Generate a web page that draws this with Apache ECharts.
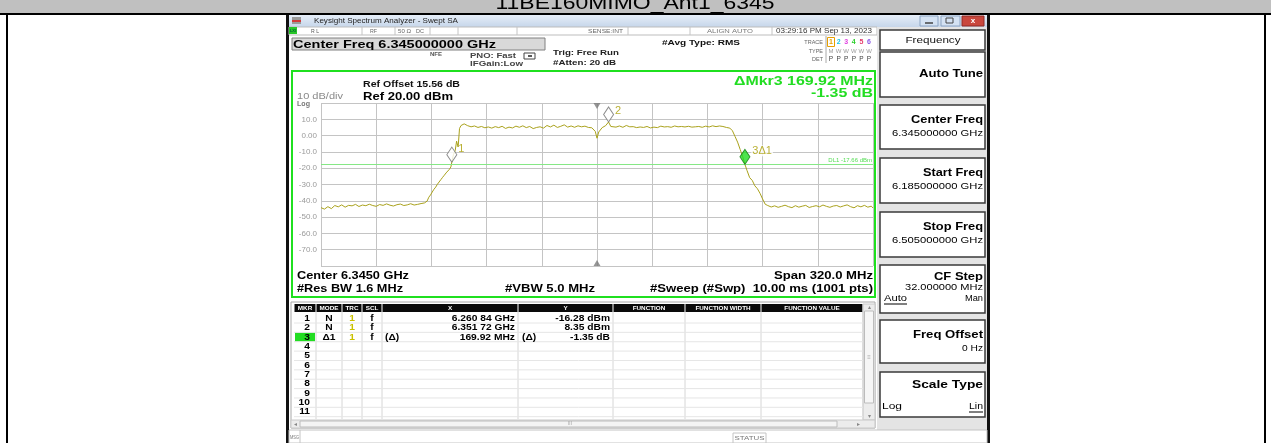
<!DOCTYPE html>
<html><head><meta charset="utf-8">
<script src="https://cdn.jsdelivr.net/npm/echarts/dist/echarts.min.js"></script>
<style>html,body{margin:0;padding:0;background:#fff;overflow:hidden}#chart{width:1271px;height:443px}</style>
</head><body><div id="chart"></div>
<script>
// ================= DATA =================
const chartTitle = '11BE160MIMO_Ant1_6345';
const startFreqGHz = 6.185, stopFreqGHz = 6.505, centerFreqGHz = 6.345;
const refLevelDbm = 20, bottomLevelDbm = -80, dbPerDiv = 10;
const yTickLabelValues = [10, 0, -10, -20, -30, -40, -50, -60, -70];

const lowFloorFreq = [6.185,6.187,6.189,6.191,6.193,6.195,6.197,6.199,6.201,6.203,6.205,6.207,6.209,6.211,6.213,6.215,6.217,6.219,6.221,6.223,6.225,6.227,6.229,6.231,6.233,6.235,6.237,6.239,6.241,6.243,6.245];
const lowFloorDbm  = [-44.2,-45.1,-43.6,-44.8,-42.9,-43.7,-42.5,-43.9,-42.8,-43.1,-42.2,-43.5,-42.6,-43.0,-42.1,-42.9,-43.4,-42.3,-42.8,-41.9,-42.7,-43.2,-42.4,-42.0,-42.9,-42.5,-41.8,-42.6,-42.2,-41.7,-41.3];

const riseFreq = [6.2465,6.2475,6.2485,6.2495,6.2505,6.2515,6.2525,6.2535,6.2545,6.2555,6.2565,6.2575,6.2585,6.2595,6.2603,6.26084,6.2618,6.2628,6.2636,6.2645,6.2653,6.2662,6.2670];
const riseDbm  = [-40.2,-37.8,-36.4,-34.6,-32.9,-31.6,-29.8,-28.7,-27.0,-25.6,-24.3,-22.9,-21.8,-20.6,-19.2,-16.28,-11.6,-9.2,-3.4,-7.0,4.4,6.2,7.4];

const passFreq = [6.268,6.270,6.272,6.274,6.276,6.278,6.280,6.282,6.284,6.286,
  6.288,6.290,6.292,6.294,6.296,6.298,6.300,6.302,6.304,6.306,
  6.308,6.310,6.312,6.314,6.316,6.318,6.320,6.322,6.324,6.326,
  6.328,6.330,6.332,6.334,6.336,6.338,6.340,6.342,
  6.344,6.345,6.346,6.348,6.350,6.3517,6.353,6.354,
  6.356,6.358,6.360,6.362,6.364,6.366,6.368,6.370,6.372,6.374,
  6.376,6.378,6.380,6.382,6.384,6.386,6.388,6.390,6.392,6.394,
  6.396,6.398,6.400,6.402,6.404,6.406,6.408,6.410,6.412,6.414,
  6.416,6.418,6.420,6.422];
const passDbm = [7.2,6.1,5.4,5.9,5.0,5.6,4.8,5.3,4.6,5.5,
  4.9,5.7,4.4,5.2,4.7,5.8,5.1,6.0,4.9,5.6,
  4.3,5.0,5.4,4.6,6.2,5.3,6.4,5.0,5.7,6.6,
  5.2,5.9,5.1,6.0,5.4,5.8,5.0,4.8,
  2.6,-1.6,2.2,4.9,6.1,8.35,5.6,6.3,
  5.2,5.9,5.1,6.2,5.4,5.5,4.9,5.3,5.0,5.6,
  4.7,5.2,4.9,5.8,5.3,5.5,5.1,5.9,5.4,5.6,
  5.3,5.7,5.2,5.4,5.6,5.1,5.8,5.3,6.0,5.5,
  5.9,5.6,5.0,4.6];

const fallFreq = [6.4235,6.4250,6.4265,6.4280,6.4295,6.43076,6.4320,6.4335,6.4350,6.4365,6.4380,6.4395,6.4410,6.4425];
const fallDbm  = [3.0,-0.5,-4.0,-8.5,-13.0,-17.63,-21.5,-25.8,-27.5,-30.8,-32.6,-35.4,-38.9,-42.1];

const highFloorFreq = [6.444,6.446,6.448,6.450,6.452,6.454,6.456,6.458,6.460,6.462,6.464,6.466,6.468,6.470,6.472,6.474,6.476,6.478,6.480,6.482,6.484,6.486,6.488,6.490,6.492,6.494,6.496,6.498,6.500,6.502,6.504,6.505];
const highFloorDbm  = [-42.9,-43.8,-43.1,-44.0,-43.4,-42.7,-43.6,-44.2,-43.0,-43.9,-43.3,-42.8,-44.1,-43.5,-43.0,-43.7,-42.6,-43.4,-44.0,-43.2,-42.9,-43.8,-43.1,-42.5,-43.6,-44.3,-43.0,-43.7,-42.8,-43.9,-43.3,-44.4];

const markerFreq = [6.26084, 6.35172, 6.43076];
const markerDbm  = [-16.28, 8.35, -17.63];
const markerName = ['1', '2', '3\u03941'];
const displayLineDbm = -17.66;

const tableHeaders = ['MKR','MODE','TRC','SCL','X','Y','FUNCTION','FUNCTION WIDTH','FUNCTION VALUE'];
const mkrNumbers = ['1','2','3','4','5','6','7','8','9','10','11'];
const mkrMode = ['N','N','\u03941'];
const mkrTrace = ['1','1','1'];
const mkrScale = ['f','f','f'];
const mkrXRef = ['','','(\u0394)'];
const mkrX = ['6.260 84 GHz','6.351 72 GHz','169.92 MHz'];
const mkrYRef = ['','','(\u0394)'];
const mkrY = ['-16.28 dBm','8.35 dBm','-1.35 dB'];

const softkeyTitles = ['Frequency','Auto Tune','Center Freq','Start Freq','Stop Freq','CF Step','Freq Offset','Scale Type'];
const softkeyValues = ['','','6.345000000 GHz','6.185000000 GHz','6.505000000 GHz','32.000000 MHz','0 Hz',''];

// ================= LAYOUT / DRAW =================
const FONT = '"Liberation Sans", Arial, Helvetica, sans-serif';
const ctx2d = document.createElement('canvas').getContext('2d');
function T(x, y, text, size, o) {
  o = o || {};
  const font = (o.bold ? 'bold ' : '') + size + 'px ' + FONT;
  let sx = o.sx || 1;
  if (o.w) { ctx2d.font = font; const m = ctx2d.measureText(text).width; if (m > 0) sx = o.w / m; }
  const al = o.align || 'left', va = o.va || 'middle';
  return { type: 'text', x: x, y: y, scaleX: sx, scaleY: 1, z: 50, silent: true,
    style: { text: text, font: font, fill: o.color || '#000', align: al, verticalAlign: va, textAlign: al, textVerticalAlign: va } };
}
function R(x, y, w, h, fill, stroke, lw) {
  return { type: 'rect', z: 1, silent: true, shape: { x: x, y: y, width: w, height: h },
    style: { fill: fill || 'transparent', stroke: stroke || null, lineWidth: lw || 1 } };
}
function L(x1, y1, x2, y2, c, lw) {
  return { type: 'line', z: 2, silent: true, shape: { x1: x1, y1: y1, x2: x2, y2: y2 }, style: { stroke: c, lineWidth: lw || 1 } };
}

const g = [];
// outer table frame
g.push(R(0, 0, 1271, 13, '#c0c0c0'));
g.push(R(0, 13, 1271, 2, '#000'));
g.push(R(6, 13, 2, 430, '#000'));
g.push(R(1264, 13, 2, 430, '#000'));
g.push(T(635, 13, chartTitle, 18, { align: 'center', va: 'bottom', w: 279 }));

// screenshot frame
g.push(R(286, 15, 3, 428, '#111'));
g.push(R(987, 15, 3, 428, '#111'));
// window title bar
g.push(R(289, 15, 698, 12, { type: 'linear', x: 0, y: 0, x2: 0, y2: 1, colorStops: [{ offset: 0, color: '#e6eef8' }, { offset: 1, color: '#c6d6ea' }] }));
g.push(R(292, 17, 9, 3, '#9a9a9a'));
g.push(R(292, 20, 9, 2, '#d33a3a'));
g.push(R(292, 22, 9, 2, '#9a9a9a'));
g.push(T(314, 21, 'Keysight Spectrum Analyzer - Swept SA', 7, { w: 144, color: '#222' }));
g.push(R(920, 16, 18, 10, '#d4e2f3', '#8ca4c2'));
g.push(L(925, 23, 933, 23, '#444', 1.5));
g.push(R(941, 16, 19, 10, '#d4e2f3', '#8ca4c2'));
g.push(R(946, 18, 7, 5, 'transparent', '#444'));
g.push(R(962, 16, 22, 10, '#c9473d', '#8e2a24'));
g.push(T(973, 21, 'x', 8, { align: 'center', bold: true, color: '#fff' }));

// status row
g.push(R(289, 27, 588, 8, '#fff', '#bdbdbd'));
g.push(R(289, 27, 8, 7, '#27c627'));
g.push(T(293, 31, 'LXI', 4, { align: 'center', bold: true, color: '#063' }));
[362, 395, 430, 458, 517, 628, 690, 772].forEach(function (x) { g.push(L(x, 27, x, 35, '#c4c4c4')); });
g.push(T(311, 31, 'R L', 6, { color: '#555', w: 8 }));
g.push(T(370, 31, 'RF', 6, { color: '#666', w: 7 }));
g.push(T(398, 31, '50 \u03a9', 6, { color: '#666', w: 13 }));
g.push(T(416, 31, 'DC', 6, { color: '#666', w: 8 }));
g.push(T(623, 31, 'SENSE:INT', 6, { color: '#666', align: 'right', w: 35 }));
g.push(T(730, 31, 'ALIGN AUTO', 6, { color: '#777', align: 'center', w: 46 }));
g.push(T(776, 31, '03:29:16 PM Sep 13, 2023', 7, { color: '#333', w: 96 }));

// header info area
g.push(R(292, 38, 253, 12, '#d9d9d9', '#808080'));
g.push(T(293, 44.5, 'Center Freq 6.345000000 GHz', 11, { bold: true, w: 203 }));
g.push(T(430, 54, 'NFE', 6, { bold: true, color: '#555', w: 12 }));
g.push(T(470, 56, 'PNO: Fast', 6.5, { bold: true, color: '#444', w: 46 }));
g.push(R(524, 53, 11, 6, '#fff', '#444'));
g.push(L(528, 56, 532, 56, '#222', 1.5));
g.push(T(470, 64, 'IFGain:Low', 6.5, { bold: true, color: '#444', w: 53 }));
g.push(T(553, 53, 'Trig: Free Run', 7.5, { bold: true, color: '#222', w: 66 }));
g.push(T(553, 63, '#Atten: 20 dB', 7.5, { bold: true, color: '#222', w: 63 }));
g.push(T(662, 43, '#Avg Type: RMS', 8, { bold: true, color: '#111', w: 78 }));
// trace table
g.push(L(826, 36, 826, 63, '#aaa'));
g.push(T(823, 42, 'TRACE', 5.5, { align: 'right', color: '#666' }));
g.push(T(823, 51, 'TYPE', 5.5, { align: 'right', color: '#666' }));
g.push(T(823, 59, 'DET', 5.5, { align: 'right', color: '#666' }));
const traceColors = ['#e8a000', '#19c8e6', '#e040e0', '#2ccf2c', '#e43a6a', '#8a5ae6'];
g.push(R(827.5, 37.5, 7, 9, 'transparent', '#e8a000'));
['1', '2', '3', '4', '5', '6'].forEach(function (d, i) {
  g.push(T(831 + i * 7.6, 42, d, 7, { align: 'center', bold: true, color: traceColors[i] }));
  g.push(T(831 + i * 7.6, 51, i === 0 ? 'M' : 'W', 6, { align: 'center', color: '#999' }));
  g.push(T(831 + i * 7.6, 59, 'P', 6.5, { align: 'center', color: '#444' }));
});

// right softkey panel
g.push(R(877, 27, 110, 403, '#e4e4e4'));
const skTop = [30, 52, 105, 158, 212, 265, 320, 372];
const skH = [20, 45, 44, 45, 45, 48, 43, 45];
const skTitleW = [55, 64, 72, 60, 60, 49, 70, 71];
const skValueW = [0, 0, 91, 91, 91, 78, 21, 0];
skTop.forEach(function (top, i) {
  g.push(R(880, top, 105, skH[i], '#fff', '#3a3a3a', 1.5));
  if (i === 0) {
    g.push(T(933, top + 10, softkeyTitles[i], 9.5, { align: 'center', w: skTitleW[i], color: '#111' }));
  } else if (i === 1) {
    g.push(T(983, top + skH[i] / 2, softkeyTitles[i], 10.5, { bold: true, align: 'right', w: skTitleW[i] }));
  } else {
    const ty = (i === 5) ? top + 12 : (i === 7 ? top + 13 : top + 15);
    g.push(T(983, ty, softkeyTitles[i], 10.5, { bold: true, align: 'right', w: skTitleW[i] }));
    if (softkeyValues[i]) {
      const vy = (i === 5) ? top + 23 : top + 29;
      g.push(T(983, vy, softkeyValues[i], 8.5, { align: 'right', w: skValueW[i] }));
    }
  }
});
g.push(T(884, 299, 'Auto', 8.5, { w: 23 }));
g.push(L(884, 304, 907, 304, '#000', 1));
g.push(T(983, 299, 'Man', 8.5, { align: 'right', w: 18 }));
g.push(T(882, 407, 'Log', 8.5, { w: 20 }));
g.push(T(983, 407, 'Lin', 8.5, { align: 'right', w: 14 }));
g.push(L(969, 412, 983, 412, '#000', 1));

// plot frame (green)
g.push(R(292, 71, 583, 226, 'transparent', '#1fe01f', 2));
g.push(T(363, 85, 'Ref Offset 15.56 dB', 8.5, { bold: true, color: '#111', w: 97 }));
g.push(T(363, 96.5, 'Ref 20.00 dBm', 11, { bold: true, w: 90 }));
g.push(T(297, 97, '10 dB/div', 9, { color: '#8a8a8a', w: 46 }));
g.push(T(297, 104, 'Log', 8, { bold: true, color: '#777', w: 13 }));
g.push(T(873, 81, '\u0394Mkr3 169.92 MHz', 13, { bold: true, align: 'right', color: '#22dd22', w: 139 }));
g.push(T(873, 93, '-1.35 dB', 13, { bold: true, align: 'right', color: '#22dd22', w: 62 }));
g.push(T(297, 276, 'Center 6.3450 GHz', 10.5, { bold: true, w: 112 }));
g.push(T(297, 289, '#Res BW 1.6 MHz', 10.5, { bold: true, w: 106 }));
g.push(T(505, 289, '#VBW 5.0 MHz', 10.5, { bold: true, w: 90 }));
g.push(T(873, 276, 'Span 320.0 MHz', 10.5, { bold: true, align: 'right', w: 99 }));
g.push(T(873, 289, '#Sweep (#Swp)  10.00 ms (1001 pts)', 10.5, { bold: true, align: 'right', w: 223 }));

// marker table
const colX = [294, 316, 342, 362, 382, 518, 613, 685, 761, 863];
g.push(R(291, 302, 584, 126, '#fff', '#a8a8a8'));
for (let c = 0; c < 9; c++) {
  g.push(R(colX[c] + 0.5, 304, colX[c + 1] - colX[c] - 1, 8, '#0a0a0a'));
  g.push(T((colX[c] + colX[c + 1]) / 2, 308.3, tableHeaders[c], 5.5, { bold: true, align: 'center', color: '#fff', sx: 1.15 }));
  if (c > 0) g.push(L(colX[c], 312, colX[c], 419, '#d6d6d6'));
}
g.push(L(863, 312, 863, 419, '#d6d6d6'));
const rowY0 = 318.3, rowDy = 9.37;
for (let r = 0; r < mkrNumbers.length; r++) {
  const y = rowY0 + r * rowDy;
  g.push(L(294, y + 4.7, 863, y + 4.7, '#e6e6e6'));
}
g.push(R(295, rowY0 + 2 * rowDy - 4.5, 20, 9, '#22dd22'));
const tsx = 1.14;
for (let r = 0; r < mkrNumbers.length; r++) {
  const y = rowY0 + r * rowDy;
  g.push(T(310, y, mkrNumbers[r], 9, { bold: true, align: 'right', sx: tsx }));
  if (r < mkrMode.length) {
    g.push(T(329, y, mkrMode[r], 9, { bold: true, align: 'center', sx: tsx }));
    g.push(T(352, y, mkrTrace[r], 9, { bold: true, align: 'center', color: '#c9c000', sx: tsx }));
    g.push(T(372, y, mkrScale[r], 9, { bold: true, align: 'center', sx: tsx }));
    if (mkrXRef[r]) g.push(T(385, y, mkrXRef[r], 9, { bold: true, sx: tsx }));
    g.push(T(515, y, mkrX[r], 9, { bold: true, align: 'right', sx: tsx }));
    if (mkrYRef[r]) g.push(T(522, y, mkrYRef[r], 9, { bold: true, sx: tsx }));
    g.push(T(610, y, mkrY[r], 9, { bold: true, align: 'right', sx: tsx }));
  }
}
// vertical scrollbar
g.push(R(863, 304, 12, 116, '#ececec', '#c8c8c8'));
g.push(R(864.5, 311, 9, 92, '#f6f6f6', '#bcbcbc'));
g.push(T(869, 307.5, '\u25b4', 6, { align: 'center', color: '#888' }));
g.push(T(869, 416, '\u25be', 6, { align: 'center', color: '#888' }));
g.push(T(869, 357, '\u2261', 6, { align: 'center', color: '#aaa' }));
// horizontal scrollbar
g.push(R(291, 420, 584, 8, '#ececec', '#c8c8c8'));
g.push(R(300, 421, 537, 6, '#f4f4f4', '#bcbcbc'));
g.push(T(295, 424, '\u25c2', 6, { align: 'center', color: '#888' }));
g.push(T(858, 424, '\u25b8', 6, { align: 'center', color: '#888' }));
g.push(T(570, 424, 'III', 4.5, { align: 'center', color: '#999' }));
// message / status row
g.push(R(289, 430, 698, 13, '#fff', '#c4c4c4'));
g.push(L(300, 430, 300, 443, '#c4c4c4'));
g.push(T(290, 438, 'MSG', 5, { color: '#777', w: 9 }));
g.push(R(733, 433, 33, 10, '#fff', '#c4c4c4'));
g.push(T(749.5, 439, 'STATUS', 5, { align: 'center', color: '#777', w: 30 }));

// ================= CHART =================
function pairs(fs, ds) { return fs.map(function (f, i) { return [f, ds[i]]; }); }
const traceData = [].concat(
  pairs(lowFloorFreq, lowFloorDbm), pairs(riseFreq, riseDbm), pairs(passFreq, passDbm),
  pairs(fallFreq, fallDbm), pairs(highFloorFreq, highFloorDbm));

const markerData = markerFreq.map(function (f, i) {
  const active = i === 2;
  return {
    value: [f, markerDbm[i]],
    itemStyle: { color: active ? '#22dd22' : '#ffffff', borderColor: active ? '#0f7a0f' : '#707070', borderWidth: 1 },
    label: { show: true, formatter: markerName[i], position: 'right', distance: 1, offset: [0, i === 1 ? -4 : -6],
      color: '#a89c00', fontSize: 11, fontFamily: FONT,
      backgroundColor: active ? '#fff' : 'transparent', padding: active ? [0, 1, 0, 1] : 0 }
  };
});

const chart = echarts.init(document.getElementById('chart'), null, { renderer: 'canvas' });
chart.setOption({
  animation: false,
  backgroundColor: '#ffffff',
  grid: { left: 321, top: 103, width: 552, height: 163, containLabel: false, outerBoundsMode: 'none' },
  xAxis: [
    { type: 'value', min: startFreqGHz, max: stopFreqGHz, show: false, gridIndex: 0 },
    { type: 'value', min: 0, max: 10, interval: 1, gridIndex: 0, position: 'bottom',
      axisLine: { show: false }, axisTick: { show: false }, axisLabel: { show: false },
      splitLine: { show: true, lineStyle: { color: '#c4c4c4', width: 1 } } }
  ],
  yAxis: {
    type: 'value', min: bottomLevelDbm, max: refLevelDbm, interval: dbPerDiv,
    axisLine: { show: false }, axisTick: { show: false },
    splitLine: { show: true, lineStyle: { color: '#c4c4c4', width: 1 } },
    axisLabel: { show: true, margin: 4, color: '#9a9a9a', fontSize: 8, fontFamily: FONT,
      showMinLabel: false, showMaxLabel: false,
      formatter: function (v) { if (yTickLabelValues.indexOf(v) < 0) return ''; return v === 0 ? '0.00' : v.toFixed(1); } }
  },
  series: [
    { type: 'line', xAxisIndex: 0, data: traceData, showSymbol: false, symbol: 'none', z: 3,
      lineStyle: { color: '#aaa21c', width: 1 }, silent: true,
      markLine: { silent: true, symbol: ['none', 'none'], animation: false,
        lineStyle: { color: '#86e886', width: 1, type: 'solid' },
        label: { show: true, position: 'insideEndTop', formatter: 'DL1 -17.66 dBm', color: '#55dd55', fontSize: 6, fontFamily: FONT, distance: 1 },
        data: [{ yAxis: displayLineDbm }] } },
    { type: 'scatter', xAxisIndex: 0, z: 5, symbol: 'triangle', symbolSize: [7, 6], silent: true,
      itemStyle: { color: '#7a7a7a' },
      data: [{ value: [centerFreqGHz, refLevelDbm], symbolRotate: 180, symbolOffset: [0, 3] },
             { value: [centerFreqGHz, bottomLevelDbm], symbolOffset: [0, -3] }] },
    { type: 'scatter', xAxisIndex: 0, z: 6, symbol: 'diamond', symbolSize: [10, 15], symbolOffset: [0, '-50%'], silent: true,
      data: markerData }
  ],
  graphic: { elements: g }
});
</script>
</body></html>
